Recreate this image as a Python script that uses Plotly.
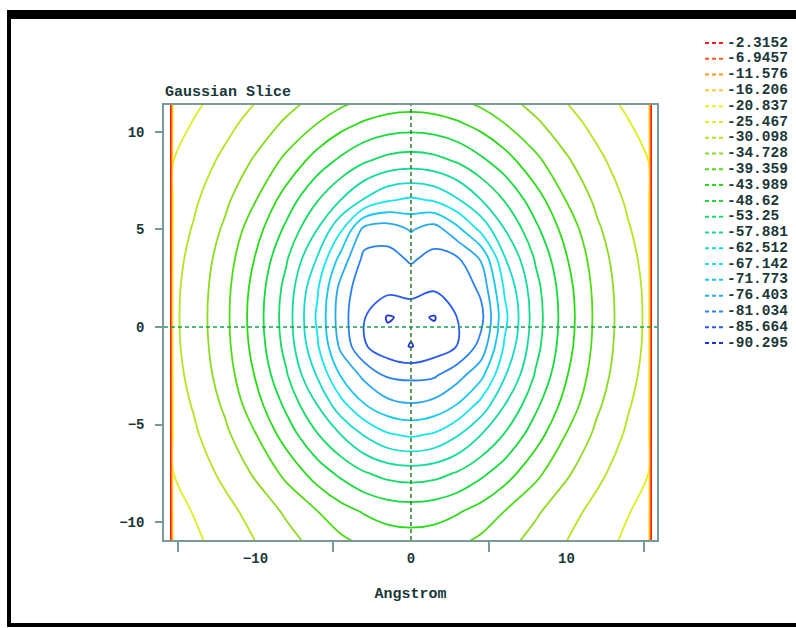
import plotly.graph_objects as go

# ---------------- data ----------------
level_labels = ["-2.3152", "-6.9457", "-11.576", "-16.206", "-20.837", "-25.467",
                "-30.098", "-34.728", "-39.359", "-43.989", "-48.62", "-53.25",
                "-57.881", "-62.512", "-67.142", "-71.773", "-76.403", "-81.034",
                "-85.664", "-90.295"]
level_values = [-2.3152, -6.9457, -11.576, -16.206, -20.837, -25.467,
                -30.098, -34.728, -39.359, -43.989, -48.62, -53.25,
                -57.881, -62.512, -67.142, -71.773, -76.403, -81.034,
                -85.664, -90.295]
level_colors = ["#ff1a1a", "#ff5a1a", "#ff961e", "#ffc83c", "#f0f01e", "#dcf01e",
                "#b4e61e", "#8cdc1e", "#50dc14", "#28dc14", "#14dc3c", "#14dc64",
                "#14dc96", "#14dcc8", "#14e6f0", "#14c8f0", "#28aaf0", "#2882f0",
                "#285af0", "#1e32dc"]

x_angstrom = [-15.5, -15.3, -14, -12, -10, -8, -6, -4.5, -3, -1.5, 0,
              1.5, 3, 4.5, 6, 8, 10, 12, 14, 15.3, 15.5]
y_angstrom = [-11, -9.5, -7.5, -5.5, -4, -2.5, -1, 0.5, 2, 3.5, 5, 6.5, 8.5, 10.5, 11.5]

z_potential = [
    [0, -22.9, -24.5, -27.3, -30.1, -33.1, -36.3, -38.4, -40.2, -41.6, -42.0, -41.6, -40.2, -38.4, -36.3, -33.1, -30.1, -27.3, -24.5, -22.9, 0],
    [0, -23.8, -25.6, -28.6, -31.7, -35.4, -39.2, -42.1, -44.3, -45.7, -46.2, -45.7, -44.3, -42.1, -39.2, -35.4, -31.7, -28.6, -25.6, -23.8, 0],
    [0, -25.4, -27.6, -31.1, -35.4, -40.6, -46.2, -49.7, -52.8, -54.8, -55.5, -54.8, -52.8, -49.7, -46.2, -40.6, -35.4, -31.1, -27.6, -25.4, 0],
    [0, -27.0, -29.3, -33.6, -39.2, -46.2, -53.1, -58.0, -63.0, -66.7, -68.0, -66.7, -63.0, -58.0, -53.1, -46.2, -39.2, -33.6, -29.3, -27.0, 0],
    [0, -27.9, -30.4, -35.4, -42.1, -49.7, -58.0, -65.5, -71.5, -74.9, -76.0, -74.9, -71.5, -65.5, -58.0, -49.7, -42.1, -35.4, -30.4, -27.9, 0],
    [0, -28.6, -31.3, -36.8, -44.3, -52.8, -63.0, -72.0, -77.5, -81.5, -82.0, -81.5, -78.0, -73.0, -63.0, -52.8, -44.3, -36.8, -31.3, -28.6, 0],
    [0, -29.1, -31.8, -37.7, -45.7, -54.8, -66.7, -77.5, -85.2, -88.5, -90.5, -88.2, -85.5, -79.5, -66.7, -54.8, -45.7, -37.7, -31.8, -29.1, 0],
    [0, -29.2, -32.0, -38.0, -46.2, -55.5, -68.0, -79.0, -85.4, -90.7, -89.2, -90.6, -85.5, -82.5, -68.5, -55.5, -46.2, -38.0, -32.0, -29.2, 0],
    [0, -29.1, -31.8, -37.7, -45.7, -54.8, -66.7, -78.0, -84.5, -84.0, -83.5, -85.0, -84.5, -80.0, -66.7, -54.8, -45.7, -37.7, -31.8, -29.1, 0],
    [0, -28.6, -31.3, -36.8, -44.3, -52.8, -63.0, -73.5, -82.3, -82.5, -80.5, -82.3, -81.5, -76.0, -63.0, -52.8, -44.3, -36.8, -31.3, -28.6, 0],
    [0, -27.9, -30.4, -35.4, -42.1, -49.7, -58.0, -66.5, -78.0, -79.0, -76.0, -78.5, -73.0, -66.0, -58.0, -49.7, -42.1, -35.4, -30.4, -27.9, 0],
    [0, -27.0, -29.3, -33.6, -39.2, -46.2, -53.1, -58.0, -63.0, -66.7, -68.0, -66.7, -63.0, -58.0, -53.1, -46.2, -39.2, -33.6, -29.3, -27.0, 0],
    [0, -25.4, -27.6, -31.1, -35.4, -40.6, -46.2, -49.7, -52.8, -54.8, -55.5, -54.8, -52.8, -49.7, -46.2, -40.6, -35.4, -31.1, -27.6, -25.4, 0],
    [0, -23.8, -25.6, -28.6, -31.7, -35.4, -39.2, -42.1, -44.3, -45.7, -46.2, -45.7, -44.3, -42.1, -39.2, -35.4, -31.7, -28.6, -25.6, -23.8, 0],
    [0, -22.9, -24.5, -27.3, -30.1, -33.1, -36.3, -38.4, -40.2, -41.6, -42.0, -41.6, -40.2, -38.4, -36.3, -33.1, -30.1, -27.3, -24.5, -22.9, 0],
]

x_tick_vals = [-10, 0, 10]
x_minor_ticks = [-15, -5, 5, 15]
y_tick_vals = [-10, -5, 0, 5, 10]

# ---------------- layout helpers (pixel -> paper) ----------------
W, H = 796, 628


def fx(px):
    return px / W


def fy(py):
    return 1 - py / H


MONO = "Liberation Mono"
TXT = "#1a3838"
AXC = "#7a9a9a"

lo, hi = min(level_values), max(level_values)
colorscale = [[(v - lo) / (hi - lo), c]
              for v, c in sorted(zip(level_values, level_colors))]

fig = go.Figure()
fig.add_trace(go.Contour(
    x=x_angstrom, y=y_angstrom, z=z_potential,
    autocontour=False,
    contours=dict(start=lo, end=hi, size=(hi - lo) / (len(level_values) - 1),
                  coloring="lines", showlabels=False),
    colorscale=colorscale, zmin=lo, zmax=hi, zauto=False,
    showscale=False, line=dict(width=1.8, smoothing=1.0),
    hoverinfo="skip", xaxis="x", yaxis="y",
))

# key (legend) drawn in its own small axes on the right
for i, (lab, col) in enumerate(zip(level_labels, level_colors)):
    fig.add_trace(go.Scatter(
        x=[0, 18], y=[i, i], mode="lines", xaxis="x2", yaxis="y2",
        line=dict(color=col, width=2, dash="4px,3px"),
        showlegend=False, hoverinfo="skip", name=lab))
fig.add_trace(go.Scatter(
    x=[22] * len(level_labels), y=list(range(len(level_labels))),
    text=level_labels, mode="text", textposition="middle right",
    xaxis="x2", yaxis="y2", cliponaxis=False,
    textfont=dict(family=MONO, size=14.5, color=TXT, weight="bold"),
    showlegend=False, hoverinfo="skip"))

fig.add_vline(x=0, line=dict(color="#2a7a2a", width=1.5, dash="4px,3px"))
fig.add_hline(y=0, line=dict(color="#18a050", width=1.5, dash="4px,3px"))

# black document frame
frame = dict(type="rect", xref="paper", yref="paper", fillcolor="black",
             line=dict(width=0), layer="above")
fig.add_shape(**frame, x0=fx(7), x1=fx(11), y0=fy(627), y1=fy(10))
fig.add_shape(**frame, x0=fx(7), x1=1.0, y0=fy(19), y1=fy(10))
fig.add_shape(**frame, x0=fx(7), x1=1.0, y0=fy(627), y1=fy(623))

tickfont = dict(family=MONO, size=14, color=TXT, weight="bold")
fig.update_layout(
    width=W, height=H, template="none",
    margin=dict(l=0, r=0, t=0, b=0),
    paper_bgcolor="white", plot_bgcolor="white",
    showlegend=False,
    font=dict(family=MONO, color=TXT),
    title=dict(text="Gaussian Slice", x=fx(165), xanchor="left",
               y=fy(91), yanchor="middle", xref="container", yref="container",
               font=dict(family=MONO, size=15, color=TXT, weight="bold")),
    xaxis=dict(domain=[fx(164), fx(657)], range=[-15.88, 15.82],
               tickvals=x_tick_vals, ticks="outside", ticklen=4,
               tickcolor="rgba(0,0,0,0)",
               minor=dict(tickvals=x_minor_ticks, ticks="outside", ticklen=10,
                          tickcolor=AXC, tickwidth=1.5),
               showgrid=False, zeroline=False, showline=True, linecolor=AXC,
               linewidth=1.5, mirror=True, tickfont=tickfont, automargin=False,
               anchor="y",
               title=dict(text="Angstrom", standoff=22,
                          font=dict(family=MONO, size=15, color=TXT, weight="bold"))),
    yaxis=dict(domain=[fy(540), fy(105)], range=[-10.92, 11.38],
               tickvals=y_tick_vals, ticks="outside", ticklen=7, tickcolor=AXC,
               tickwidth=1.5, ticklabelstandoff=8,
               showgrid=False, zeroline=False, showline=True, linecolor=AXC,
               linewidth=1.5, mirror=True, tickfont=tickfont, automargin=False,
               anchor="x"),
    xaxis2=dict(domain=[fx(705), 1.0], range=[0, 796 - 705], visible=False,
                anchor="y2", fixedrange=True),
    yaxis2=dict(domain=[fy(350.9), fy(35.1)], range=[19.5, -0.5],
                visible=False, anchor="x2", fixedrange=True),
)

# remove the browser's default 8px page margin so the 796x628 figure fills the window
fig.write_html("out.html",
               config={"displayModeBar": False},
               post_script="document.body.style.margin='0';"
                           "document.documentElement.style.overflow='hidden';")
